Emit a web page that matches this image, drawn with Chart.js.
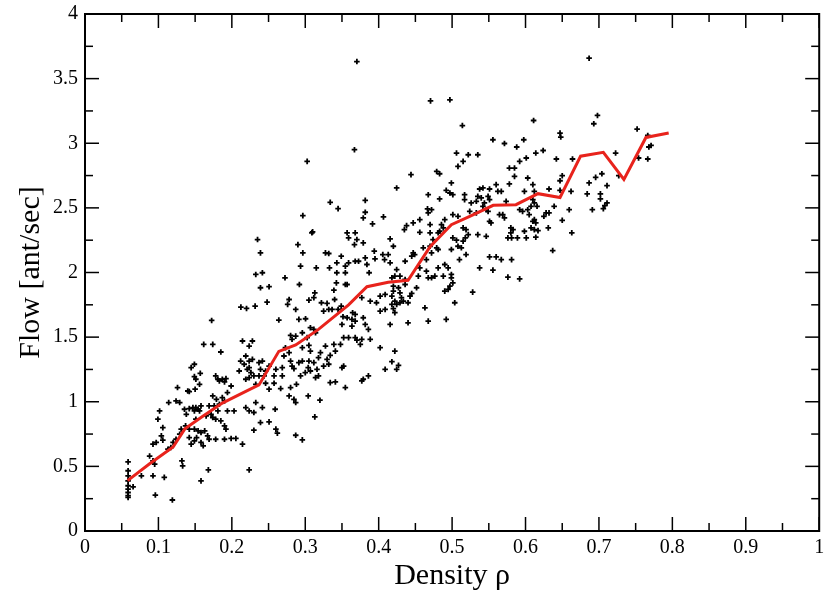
<!DOCTYPE html>
<html>
<head>
<meta charset="utf-8">
<script src="https://cdn.jsdelivr.net/npm/chart.js@4.4.1/dist/chart.umd.min.js"></script>
<style>
  html, body { margin: 0; padding: 0; background: #fff; }
  #wrap { width: 825px; height: 592px; position: relative; }
</style>
</head>
<body>
<div id="wrap"><canvas id="flowChart"></canvas></div>
<script>
// binned average flow (red line)
const avgRho = [0.058, 0.088, 0.12, 0.136, 0.156, 0.187, 0.219, 0.237, 0.264, 0.287, 0.318, 0.359, 0.384, 0.413, 0.44, 0.47, 0.499, 0.524, 0.556, 0.587, 0.617, 0.647, 0.675, 0.706, 0.734, 0.764, 0.795];
const avgFlow = [0.39, 0.52, 0.65, 0.79, 0.87, 0.99, 1.08, 1.13, 1.39, 1.44, 1.56, 1.75, 1.89, 1.925, 1.94, 2.2, 2.37, 2.435, 2.52, 2.525, 2.61, 2.58, 2.9, 2.93, 2.72, 3.045, 3.08];

// single measurements [density, flow]
const samples = [
  [.0587,.535],[.0587,.466],[.0587,.427],[.0587,.388],[.0587,.35],[.0587,.324],[.0587,.298],[.0587,.273],[.0587,.26],
  [.0655,.342],[.0768,.427],[.088,.58],[.0926,.543],[.0949,.517],[.0926,.427],[.0958,.278],[.108,.415],[.119,.24],[.132,.543],[.133,.504],[.158,.388],[.168,.473],[.2236,.473],
  [.0926,.672],[.097,.685],[.104,.736],[.106,.703],[.113,.633],[.117,.646],[.12,.685],[.124,.71],[.129,.749],[.131,.788],
  [.0993,.865],[.1016,.929],[.106,.80],[.114,.994],[.124,1.006],[.129,.994],[.126,1.11],[.1355,.942],[.138,.903],[.137,.813],[.142,.723],[.1446,.672],[.149,.697],
  [.14,1.083],[.142,.947],[.147,.955],[.149,.929],[.151,.955],[.154,.942],[.156,.929],[.158,.968],[.142,.788],[.149,.788],[.154,.775],[.158,.762],[.163,.775],[.167,.736],[.169,.71],[.178,.71],[.19,.71],[.199,.716],[.2055,.716],[.2145,.672],[.152,.723],[.158,.685],[.161,.659],
  [.1446,1.264],[.149,1.29],[.157,1.22],[.1617,1.444],[.174,1.444],[.185,1.385],[.149,1.195],[.151,1.174],[.156,1.135],[.142,1.079],[.15,1.097],[.178,1.2],[.181,1.174],[.187,1.174],[.19,1.153],[.183,1.161],[.192,1.179],[.199,1.122],[.194,1.071],[.174,1.045],[.179,1.019],[.187,1.032],[.19,1.006],[.183,.981],[.169,.968],[.176,.968],[.151,.865],[.165,.89],[.1717,.903],[.174,.878],[.178,.865],[.181,.929],[.185,.852],[.19,.813],[.192,.788],[.194,.929],[.203,.929],
  [.2145,1.47],[.219,1.354],[.212,1.315],[.2168,1.29],[.2236,1.315],[.221,1.251],[.226,1.225],[.21,1.238],[.219,1.174],[.23,1.2],[.2326,1.135],[.219,.955],[.2236,.929],[.228,1.47],
  [.2123,1.732],[.22,1.722],[.1725,1.629],
  [.235,2.255],[.239,2.152],[.2326,1.985],[.2416,1.998],[.239,1.882],[.2507,1.89],[.248,1.771],[.2317,1.74],
  [.29,2.216],[.2967,2.152],[.309,2.307],[.2936,2.049],[.2724,1.959],[.292,1.907],[.315,2.036],[.3275,2.152],[.332,2.147],[.333,2.036],[.343,2.075],[.349,2.126],[.3546,2.049],[.359,2.075],[.357,2.307],[.368,2.307],[.359,2.268],[.3703,2.255],[.367,2.216],[.379,2.229],[.368,2.087],[.3726,2.087],[.3817,2.113],[.384,2.062],[.343,1.998],[.3546,1.998],[.387,1.998],[.394,2.165],[.395,2.106],[.4056,2.139],[.408,2.1],
  [.3424,1.92],[.3546,1.907],[.357,1.907],[.339,1.863],[.34,1.791],[.313,1.843],[.3117,1.805],[.305,1.786],[.322,1.766],[.325,1.701],[.3297,1.761],[.332,1.714],[.3365,1.714],[.3447,1.714],[.349,1.74],[.3514,1.658],[.357,1.65],[.3645,1.689],[.368,1.676],[.377,1.805],[.3885,1.778],[.397,1.766],[.402,1.817],[.4088,1.83],[.4088,1.714],[.402,1.701],[.418,1.753],
  [.379,1.65],[.3817,1.598],[.386,1.56],[.3636,1.637],[.368,1.624],[.3636,1.585],[.368,1.496],[.3703,1.477],[.35,1.598],[.3523,1.496],[.359,1.496],[.377,1.483],[.375,1.444],[.3885,1.483],[.402,1.418],[.4088,1.251],[.386,1.2],[.377,1.161],[.3546,1.11],[.341,1.153],[.334,1.148],
  [.325,1.276],[.3297,1.328],[.334,1.359],[.341,1.392],[.348,1.444],[.339,1.444],[.3275,1.431],[.3207,1.38],[.318,1.341],[.3117,1.303],[.316,1.251],[.318,1.2],[.314,1.187],[.307,1.238],[.305,1.315],[.307,1.392],[.296,1.418],[.305,1.436],[.3026,1.496],[.296,1.534],[.287,1.508],[.28,1.513],[.2913,1.637],[.3004,1.642],[.307,1.573],[.3117,1.56],[.314,1.534],
  [.278,1.791],[.276,1.753],[.287,1.714],[.264,1.632],[.282,1.483],[.273,1.418],[.278,1.38],[.271,1.354],[.28,1.315],[.282,1.276],[.2846,1.256],[.2913,1.303],[.296,1.315],[.304,1.264],[.3,1.225],[.2936,1.2],[.288,1.135],[.28,1.11],[.278,1.045],[.2846,1.019],[.287,.994],[.304,1.045],[.32,1.012],[.313,.883],[.296,.705],[.287,.741],[.26,.788],[.262,.757],[.2507,.844],[.259,.942],[.239,.839],[.23,.78],[.23,.917],[.2416,.955],[.2326,.994],
  [.2507,1.097],[.246,1.143],[.2575,1.143],[.2665,1.102],[.2687,1.2],[.2575,1.2],[.26,1.251],[.2687,1.264],[.246,1.238],[.237,1.303],[.2416,1.315],[.239,1.251],[.244,1.2],[.2507,1.276],[.2236,1.431],[.228,1.328],[.2236,1.264],[.2236,1.187],[.237,1.2],[.3523,1.276],[.379,1.174],[.35,1.264],[.332,1.29],
  [.334,2.543],[.3447,2.494],[.3817,2.558],[.3817,2.466],[.379,2.422],[.3916,2.376],[.4065,2.43],[.2967,2.44],[.31,2.314],[.3026,2.86],[.367,2.95],[.3703,3.632],
  [.4706,3.328],[.497,3.336],[.514,3.137],[.5556,3.027],[.5713,2.998],[.588,2.971],[.5976,3.027],[.6866,3.658],
  [.506,2.924],[.522,2.911],[.535,2.911],[.508,2.821],[.515,2.86],[.479,2.782],[.483,2.764],[.444,2.757],[.4245,2.654],[.578,2.808],[.585,2.808],[.592,2.86],[.601,2.886],[.614,2.924],[.585,2.744],[.603,2.731],
  [.499,2.693],[.492,2.636],[.497,2.615],[.4675,2.602],[.483,2.569],[.501,2.602],[.517,2.602],[.517,2.564],[.5375,2.646],[.542,2.654],[.551,2.646],[.56,2.68],[.5623,2.628],[.567,2.628],[.535,2.589],[.5397,2.577],[.549,2.589],[.551,2.564],[.533,2.551],[.544,2.538],[.542,2.512],[.5465,2.486],[.549,2.473],[.5736,2.551],[.578,2.685],
  [.5985,2.628],[.61,2.68],[.612,2.628],[.592,2.486],[.596,2.473],[.603,2.486],[.61,2.396],[.612,2.409],[.6075,2.345],[.612,2.332],[.614,2.384],[.5985,2.319],[.601,2.268],[.589,2.268],[.569,2.448],[.5713,2.422],[.58,2.345],[.58,2.307],[.583,2.332],[.576,2.268],[.581,2.268],[.5645,2.448],[.551,2.396],[.553,2.384],[.535,2.293],[.5465,2.28],
  [.526,2.538],[.524,2.473],[.533,2.461],[.515,2.345],[.519,2.332],[.522,2.293],[.518,2.268],[.515,2.242],[.506,2.25],[.508,2.203],[.5126,2.191],[.519,2.139],[.51,2.1],[.501,2.268],[.499,2.178],[.488,2.345],[.4855,2.371],[.49,2.409],[.501,2.448],[.508,2.435],
  [.4665,2.492],[.472,2.486],[.4675,2.461],[.456,2.409],[.447,2.384],[.438,2.363],[.435,2.332],[.456,2.311],[.47,2.371],[.47,2.307],[.481,2.307],[.483,2.319],[.474,2.255],[.479,2.191],[.481,2.178],[.47,2.203],[.4607,2.191],[.472,2.152],[.447,2.152],[.445,2.126],[.449,2.139],[.436,2.087],[.465,2.1],
  [.4156,2.26],[.42,2.203],[.413,2.139],[.4156,2.075],[.456,2.036],[.4245,2.023],[.422,1.972],[.429,1.972],[.436,1.946],[.418,1.959],[.42,1.894],[.427,1.882],[.436,1.907],[.42,1.856],[.429,1.843],[.418,1.817],[.422,1.778],[.431,1.805],[.4245,1.753],[.429,1.766],[.4336,1.778],[.44,1.766],[.4427,1.817],[.445,1.838],[.42,1.72],[.422,1.689],[.4156,1.598],[.44,1.611],
  [.4516,1.882],[.454,1.972],[.4675,1.959],[.472,1.959],[.465,2.01],[.4765,1.972],[.481,2.036],[.488,1.972],[.49,2.062],[.4946,2.036],[.499,1.985],[.499,1.959],[.501,1.92],[.497,1.894],[.49,1.856],[.4946,1.869],[.463,1.727],[.4675,1.624],[.492,1.637],[.5036,1.766],[.528,1.848],[.5375,2.036],[.551,2.121],[.56,2.121],[.567,2.1],[.5556,2.018],[.576,1.964],[.581,2.1],[.592,1.951],
  [.422,1.392],[.418,1.31],[.427,1.282],[.4245,1.251],
  [.611,3.176],[.693,3.151],[.698,3.215],[.752,3.11],[.7665,3.06],[.771,2.983],[.768,2.971],[.7665,2.878],[.754,2.886],[.7227,2.924],[.727,2.749],[.704,2.764],[.6955,2.736],[.6866,2.693],[.711,2.672],[.684,2.608],[.702,2.608],[.702,2.569],[.711,2.538],[.708,2.517],[.706,2.494],[.691,2.486],
  [.664,2.878],[.647,3.078],[.648,3.048],[.624,2.944],[.642,2.878],[.65,2.749],[.647,2.71],[.662,2.628],[.647,2.636],[.632,2.646],[.61,2.564],[.612,2.538],[.6075,2.512],[.6157,2.512],[.605,2.448],[.617,2.324],[.614,2.273],[.625,2.435],[.628,2.461],[.632,2.461],[.631,2.345],[.639,2.512],[.6595,2.486],[.65,2.404],[.663,2.307],[.637,2.17]
];

const serif = '"Liberation Serif", "Times New Roman", serif';
// plain tick text: 0, 0.5, 1, 1.5 ...
const tickText = v => String(Number(v.toFixed(2)));

// inward ticks on all four sides + box frame, placed with the chart scales
const frameTicks = {
  id: 'frameTicks',
  afterDraw(chart) {
    const { ctx, chartArea: a, scales } = chart;
    const majorLen = 14, minorLen = 8;
    ctx.save();
    ctx.strokeStyle = '#000';
    ctx.lineWidth = 1.5;
    const seg = (x1, y1, x2, y2) => { ctx.beginPath(); ctx.moveTo(x1, y1); ctx.lineTo(x2, y2); ctx.stroke(); };

    const xs = scales.x.ticks.map(t => t.value);
    xs.forEach((v, i) => {
      const px = scales.x.getPixelForValue(v);
      seg(px, a.bottom, px, a.bottom - majorLen);
      seg(px, a.top, px, a.top + majorLen);
      if (i < xs.length - 1) {
        const mx = scales.x.getPixelForValue((v + xs[i + 1]) / 2);
        seg(mx, a.bottom, mx, a.bottom - minorLen);
        seg(mx, a.top, mx, a.top + minorLen);
      }
    });
    const ys = scales.y.ticks.map(t => t.value);
    ys.forEach((v, i) => {
      const py = scales.y.getPixelForValue(v);
      seg(a.left, py, a.left + majorLen, py);
      seg(a.right, py, a.right - majorLen, py);
      if (i < ys.length - 1) {
        const my = scales.y.getPixelForValue((v + ys[i + 1]) / 2);
        seg(a.left, my, a.left + minorLen, my);
        seg(a.right, my, a.right - minorLen, my);
      }
    });
    ctx.lineWidth = 2;
    ctx.strokeRect(a.left, a.top, a.right - a.left, a.bottom - a.top);
    ctx.restore();
  }
};

const ctx = document.getElementById('flowChart').getContext('2d');
const flowChart = new Chart(ctx, {
  type: 'scatter',
  data: {
    datasets: [
      {
        label: 'mean',
        data: avgRho.map((r, i) => ({ x: r, y: avgFlow[i] })),
        showLine: true,
        borderColor: '#e8231c',
        borderWidth: 3,
        pointRadius: 0,
        tension: 0,
        fill: false
      },
      {
        label: 'samples',
        data: samples.map(p => ({ x: p[0], y: p[1] })),
        pointStyle: 'cross',
        pointRadius: 2.8,
        borderColor: '#000',
        backgroundColor: '#000',
        pointBorderWidth: 1.8
      }
    ]
  },
  options: {
    responsive: true,
    maintainAspectRatio: false,
    animation: false,
    layout: { padding: { top: 14, right: 2, left: 0, bottom: 0 } },
    plugins: { legend: { display: false }, tooltip: { enabled: false } },
    scales: {
      x: {
        type: 'linear',
        min: 0, max: 1,
        grid: { display: false, drawTicks: false },
        border: { display: false },
        ticks: { stepSize: 0.1, autoSkip: false, maxRotation: 0, padding: 5, color: '#000', font: { family: serif, size: 20 }, callback: tickText },
        title: { display: true, text: 'Density ρ', color: '#000', font: { family: serif, size: 30, lineHeight: 1 }, padding: { top: 0, bottom: 1 } },
        afterFit(scale) { scale.height = 61; scale.paddingLeft = 0; scale.paddingRight = 0; }
      },
      y: {
        type: 'linear',
        min: 0, max: 4,
        grid: { display: false, drawTicks: false },
        border: { display: false },
        ticks: { stepSize: 0.5, autoSkip: false, padding: 7, color: '#000', font: { family: serif, size: 20 }, callback: tickText },
        title: { display: true, text: 'Flow [ant/sec]', color: '#000', font: { family: serif, size: 30, lineHeight: 1 }, padding: { top: 16, bottom: 0 } },
        afterFit(scale) { scale.width = 85; scale.paddingTop = 0; scale.paddingBottom = 0; }
      }
    }
  },
  plugins: [frameTicks]
});
</script>
</body>
</html>
